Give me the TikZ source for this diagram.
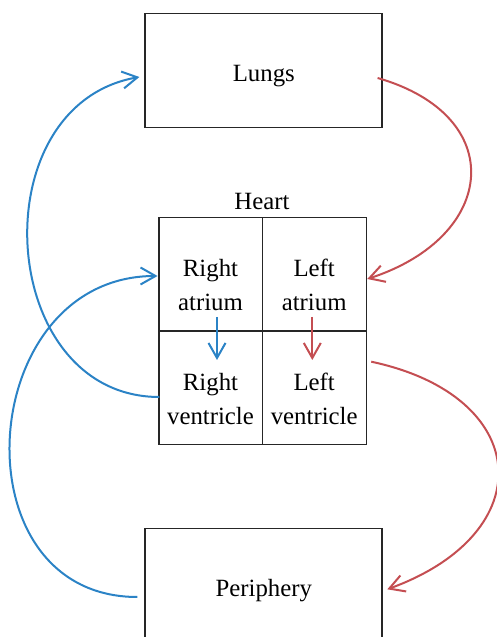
\documentclass[tikz,border=0pt]{standalone}
\usepackage{fontspec}
\setmainfont{Liberation Serif}
\usetikzlibrary{arrows.meta,calc}
\definecolor{venous}{RGB}{43,131,198}
\definecolor{arterial}{RGB}{196,78,82}
\begin{document}
\begin{tikzpicture}[x=1pt,y=1pt,
  organ/.style={draw=black!85,line width=1.2pt,rectangle,inner sep=0pt,
    minimum width=237pt,minimum height=113.6pt},
  chamber/.style={draw=black!85,line width=1.2pt,rectangle,inner sep=0pt,
    minimum width=103.7pt,minimum height=113.3pt},
  caption/.style={anchor=base,inner sep=0pt,align=center,
    font=\fontsize{24.8pt}{34pt}\selectfont},
  tipstyle/.style={-{Straight Barb[length=15pt,width=17pt]}},
  bloodflow/.style={line width=2pt,tipstyle},
  venousflow/.style={bloodflow,draw=venous},
  arterialflow/.style={bloodflow,draw=arterial}]
\useasboundingbox (0,0) rectangle (497,637);
\clip (0,0) rectangle (497,637);

% organ boxes
\node[organ] (lungs) at (263.5,566.4) {};
\node[organ] (periphery) at (263.5,51.5) {};
\node[caption] (lungstext) at (263.8,555) {Lungs};
\node[caption] (peripherytext) at (263.8,40) {Periphery};

% four chambers of the heart
\node[chamber] (ra) at (210.8,362.7) {};
\node[chamber] (la) at (314.4,362.7) {};
\node[chamber] (rv) at (210.8,249.3) {};
\node[chamber] (lv) at (314.4,249.3) {};
\node[caption] (hearttext) at (262,427) {Heart};
% the base of a two-line caption is the baseline of its last line
\node[caption] (ratext) at (210.5,326.3) {Right\\atrium};
\node[caption] (latext) at (314.2,326.3) {Left\\atrium};
\node[caption] (rvtext) at (210.5,212) {Right\\ventricle};
\node[caption] (lvtext) at (314.2,212) {Left\\ventricle};

% attachment points of the circulation loops
\coordinate (rvout) at ($(rv.west)+(1,-9.3)$);
\coordinate (lungsin) at ($(lungs.west)+(-5,-6.4)$);
\coordinate (periout) at ($(periphery.west)+(-7,-11.5)$);
\coordinate (rain) at ($(ra.west)+(-0.8,-1.7)$);
\coordinate (lungsout) at ($(lungs.east)+(-5,-7.4)$);
\coordinate (lain) at ($(la.east)+(0.4,-4.7)$);
\coordinate (lvout) at ($(lv.east)+(4.4,26)$);
\coordinate (periin) at ($(periphery.east)+(4.7,-3.8)$);
\coordinate (rastart) at (217,320);
\coordinate (rvend) at (217,277);
\coordinate (lastart) at (312.3,320);
\coordinate (lvend) at (312.3,277);

% pulmonary and systemic circulation
\draw[venousflow] (rvout) to[out=180,in=190,distance=163pt] (lungsin);
\draw[venousflow] (periout) to[out=180,in=180,distance=183pt] (rain);
\draw[arterialflow] (lungsout) to[out=-16,in=18,distance=137pt] (lain);
\draw[arterialflow] (lvout) to[out=-12,in=20,distance=165pt] (periin);

% flow through the valves
\draw[venousflow] (rastart) -- (rvend);
\draw[arterialflow] (lastart) -- (lvend);
\end{tikzpicture}
\end{document}
